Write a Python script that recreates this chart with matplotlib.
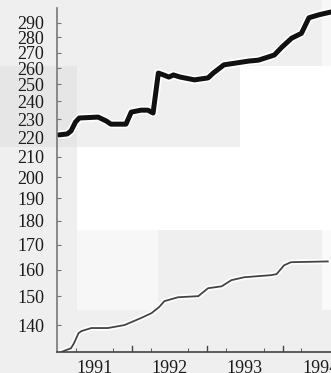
import matplotlib
matplotlib.use("Agg")
import matplotlib.pyplot as plt
import matplotlib.patheffects as pe
from matplotlib.patches import Rectangle
from matplotlib.ticker import FixedLocator, NullLocator, FixedFormatter

# upper index (thick line): year fraction, value
upper_x = [1991.03, 1991.14, 1991.19, 1991.25, 1991.30, 1991.55, 1991.66, 1991.72,
           1991.92, 1991.99, 1992.12, 1992.21, 1992.28, 1992.35, 1992.42, 1992.49,
           1992.55, 1992.64, 1992.83, 1992.92, 1993.01, 1993.08, 1993.22, 1993.55,
           1993.68, 1993.89, 1993.99, 1994.12, 1994.25, 1994.35, 1994.48, 1994.65, 1994.76]
upper_y = [221.4, 221.9, 223.5, 228.4, 230.6, 231.1, 228.9, 227.2,
           227.2, 233.9, 235.0, 235.0, 233.4, 257.0, 255.8, 254.5,
           255.8, 254.5, 252.8, 253.4, 254.0, 257.0, 262.1, 264.5,
           265.1, 268.4, 273.5, 279.5, 282.8, 293.6, 295.7, 297.8, 297.8]

# lower index (thin line)
lower_x = [1991.06, 1991.19, 1991.23, 1991.29, 1991.33, 1991.46, 1991.68, 1991.90,
           1992.12, 1992.26, 1992.36, 1992.43, 1992.61, 1992.88, 1993.01, 1993.19,
           1993.32, 1993.49, 1993.85, 1993.92, 1994.02, 1994.11, 1994.60]
lower_y = [131.2, 132.4, 134.0, 137.3, 138.0, 139.0, 139.0, 140.0,
           142.4, 144.1, 146.2, 148.3, 149.7, 150.1, 153.0, 153.7,
           156.0, 157.1, 157.9, 158.3, 161.7, 162.9, 163.2]

y_ticks = [140, 150, 160, 170, 180, 190, 200, 210, 220, 230, 240, 250, 260, 270, 280, 290]
year_labels = ["1991", "1992", "1993", "1994"]

W, H = 331, 373
fig = plt.figure(figsize=(W / 100, H / 100), dpi=100)
fig.patch.set_facecolor("#efefef")


def px_rect(x0, y0, x1, y1, color):
    # pixel box measured from the top-left corner
    fig.add_artist(Rectangle((x0 / W, 1 - y1 / H), (x1 - x0) / W, (y1 - y0) / H,
                             transform=fig.transFigure, facecolor=color,
                             edgecolor="none", zorder=0))


px_rect(0, 66, 77, 147, "#e6e6e6")
px_rect(77, 147, 331, 230, "#ffffff")
px_rect(240, 66, 331, 147, "#ffffff")
px_rect(322, 0, 331, 66, "#f7f7f7")
px_rect(77, 230, 158, 310, "#f7f7f7")
px_rect(322, 230, 331, 310, "#fafafa")

ax = fig.add_axes([56.7 / W, (H - 352) / H, (W - 56.7) / W, (352 - 8) / H])
ax.set_facecolor("none")
ax.set_zorder(2)

halo = 2.5
ax.plot(upper_x, upper_y, color="#111111", lw=3.6, solid_capstyle="round",
        solid_joinstyle="round",
        path_effects=[pe.Stroke(linewidth=3.6 + halo, foreground="white"), pe.Normal()])
ax.plot(lower_x, lower_y, color="#444444", lw=1.3,
        path_effects=[pe.Stroke(linewidth=1.3 + halo, foreground="white"), pe.Normal()])

ax.set_yscale("log")
ax.set_ylim(131.2, 300.6)
ax.set_xlim(1991.0, 1991.0 + (W - 56.7) / 75.3)

ax.yaxis.set_major_locator(FixedLocator(y_ticks))
ax.yaxis.set_major_formatter(FixedFormatter([str(v) for v in y_ticks]))
ax.yaxis.set_minor_locator(NullLocator())

# year labels centered in each year, ticks at quarters and years
ax.xaxis.set_major_locator(FixedLocator([1991.5, 1992.5, 1993.5, 1994.5]))
ax.xaxis.set_major_formatter(FixedFormatter(year_labels))
ax.xaxis.set_minor_locator(FixedLocator([1991 + q / 4 for q in range(1, 15)]))

for s in ["top", "right"]:
    ax.spines[s].set_visible(False)
ax.spines["left"].set_color("#777777")
ax.spines["left"].set_linewidth(1.2)
ax.spines["bottom"].set_color("#444444")
ax.spines["bottom"].set_linewidth(1.2)

ax.tick_params(axis="y", direction="in", length=3, color="#777777", pad=9,
               labelsize=13, labelfontfamily="Liberation Serif", labelcolor="#1a1a1a")
ax.tick_params(axis="x", which="major", length=0, pad=6,
               labelsize=13, labelfontfamily="Liberation Serif", labelcolor="#1a1a1a")
ax.tick_params(axis="x", which="minor", direction="in", length=3, color="#444444")

# taller marks at the year boundaries
for yr in [1992, 1993, 1994]:
    ax.axvline(yr, ymin=0, ymax=0.018, color="#444444", lw=1.0)

fig.text(0.57, 1 - 3 / H, "Consumer Price Indexes", color="white", ha="center",
         va="bottom", fontsize=13, fontfamily="Liberation Serif")

fig.savefig("out.png", dpi=100, facecolor=fig.get_facecolor())
